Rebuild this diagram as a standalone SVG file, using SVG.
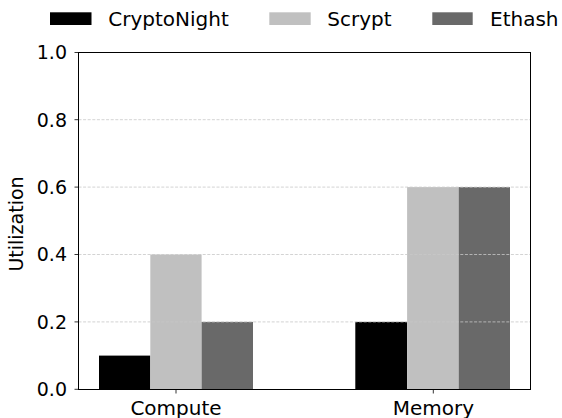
<svg xmlns="http://www.w3.org/2000/svg" width="562" height="418" viewBox="0 0 562 418">
<style>
text{font-family:"DejaVu Sans","Liberation Sans",sans-serif;font-size:20px;fill:#000}
.yt{text-anchor:end;font-size:19px}
.xt{text-anchor:middle}
.grid{stroke:#c8c8c8;stroke-width:0.8;stroke-dasharray:3,1.6;fill:none}
.tick{stroke:#000;stroke-width:0.8}
.cn{fill:#000}
.sc{fill:#c0c0c0}
.eh{fill:#696969}
</style>
<rect width="562" height="418" fill="#fff"/>
<g id="legend">
<rect class="cn" x="50" y="12.3" width="41.5" height="12.7"/>
<text x="108.3" y="26">CryptoNight</text>
<rect class="sc" x="269.3" y="12.3" width="41.4" height="12.7"/>
<text x="327.3" y="26">Scrypt</text>
<rect class="eh" x="432.3" y="12.3" width="40.4" height="12.7"/>
<text x="490" y="26">Ethash</text>
</g>
<g id="bars">
<rect class="cn" x="99" y="355.6" width="51.3" height="33.7"/>
<rect class="sc" x="150.3" y="254.5" width="51.3" height="134.8"/>
<rect class="eh" x="201.6" y="321.9" width="51.4" height="67.4"/>
<rect class="cn" x="355.3" y="321.9" width="51.8" height="67.4"/>
<rect class="sc" x="407.1" y="187.1" width="51.6" height="202.2"/>
<rect class="eh" x="458.7" y="187.1" width="51.3" height="202.2"/>
</g>
<g id="grid">
<line class="grid" x1="78.5" y1="321.9" x2="530.5" y2="321.9"/>
<line class="grid" x1="78.5" y1="254.5" x2="530.5" y2="254.5"/>
<line class="grid" x1="78.5" y1="187.1" x2="530.5" y2="187.1"/>
<line class="grid" x1="78.5" y1="119.7" x2="530.5" y2="119.7"/>
</g>
<g id="axes">
<rect x="78.5" y="52.5" width="452" height="337" fill="none" stroke="#000" stroke-width="1"/>
<line class="tick" x1="74.5" y1="389.3" x2="78.5" y2="389.3"/>
<line class="tick" x1="74.5" y1="321.9" x2="78.5" y2="321.9"/>
<line class="tick" x1="74.5" y1="254.5" x2="78.5" y2="254.5"/>
<line class="tick" x1="74.5" y1="187.1" x2="78.5" y2="187.1"/>
<line class="tick" x1="74.5" y1="119.7" x2="78.5" y2="119.7"/>
<line class="tick" x1="74.5" y1="52.5" x2="78.5" y2="52.5"/>
<line class="tick" x1="176" y1="389.5" x2="176" y2="393.5"/>
<line class="tick" x1="433.3" y1="389.5" x2="433.3" y2="393.5"/>
<text class="yt" x="67" y="396.2">0.0</text>
<text class="yt" x="67" y="328.8">0.2</text>
<text class="yt" x="67" y="261.4">0.4</text>
<text class="yt" x="67" y="194">0.6</text>
<text class="yt" x="67" y="126.6">0.8</text>
<text class="yt" x="67" y="59.4">1.0</text>
<text class="xt" x="176" y="414.5">Compute</text>
<text class="xt" x="433.3" y="414.5">Memory</text>
<text class="xt" transform="translate(23,224) rotate(-90)" style="font-size:19px">Utilization</text>
</g>
</svg>
